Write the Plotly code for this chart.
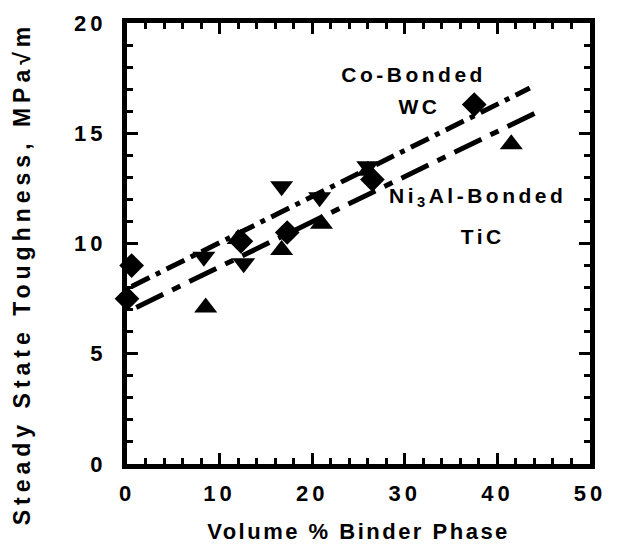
import plotly.graph_objects as go

# Data
wc_x = [0.0, 0.5, 12.3, 17.3, 26.5, 37.5]
wc_y = [7.5, 9.0, 10.1, 10.5, 12.9, 16.3]

tic_up_x = [8.5, 12.0, 16.7, 21.0, 26.0, 41.5]
tic_up_y = [7.1, 10.2, 9.7, 10.9, 13.3, 14.5]

tic_dn_x = [8.3, 12.6, 16.7, 20.8, 26.0]
tic_dn_y = [9.4, 9.1, 12.6, 12.1, 13.5]

fit_wc_x = [0.5, 43.5]
fit_wc_y = [8.05, 17.05]
fit_tic_x = [1.0, 44.0]
fit_tic_y = [7.1, 15.9]

x_ticks = [0, 10, 20, 30, 40, 50]
y_ticks = [0, 5, 10, 15, 20]

FONT = "Liberation Sans"

fig = go.Figure()
fig.add_trace(go.Scatter(x=fit_wc_x, y=fit_wc_y, mode="lines",
                         line=dict(color="black", width=5, dash="20px,7px,5px,7px"),
                         showlegend=False))
fig.add_trace(go.Scatter(x=fit_tic_x, y=fit_tic_y, mode="lines",
                         line=dict(color="black", width=5, dash="30px,10px,9px,10px"),
                         showlegend=False))
fig.add_trace(go.Scatter(x=wc_x, y=wc_y, mode="markers",
                         marker=dict(symbol="diamond", size=19, color="black"),
                         showlegend=False, cliponaxis=False))
fig.add_trace(go.Scatter(x=tic_up_x, y=tic_up_y, mode="markers",
                         marker=dict(symbol="triangle-up", size=20, color="black"),
                         showlegend=False, cliponaxis=False))
fig.add_trace(go.Scatter(x=tic_dn_x, y=tic_dn_y, mode="markers",
                         marker=dict(symbol="triangle-down", size=20, color="black"),
                         showlegend=False, cliponaxis=False))
# invisible trace to carry the top/right tick axes
fig.add_trace(go.Scatter(x=[None], y=[None], xaxis="x2", yaxis="y2",
                         mode="markers", showlegend=False, hoverinfo="skip"))

ann_font = dict(family=FONT, size=21, color="black", weight="bold")
fig.add_annotation(x=30.9, y=17.65, text="Co-Bonded", showarrow=False,
                   font=ann_font, xanchor="center", yanchor="middle")
fig.add_annotation(x=31.6, y=16.2, text="WC", showarrow=False,
                   font=ann_font, xanchor="center", yanchor="middle")
fig.add_annotation(x=37.8, y=12.1, text="Ni<sub>3</sub>Al-Bonded", showarrow=False,
                   font=ann_font, xanchor="center", yanchor="middle")
fig.add_annotation(x=38.4, y=10.3, text="TiC", showarrow=False,
                   font=ann_font, xanchor="center", yanchor="middle")

tick_font = dict(family=FONT, size=22, color="black", weight="bold")

fig.update_xaxes(range=[0, 50], tickvals=x_ticks,
                 showline=True, linecolor="black", linewidth=5, mirror=True,
                 ticks="inside", ticklen=11, tickwidth=3, tickcolor="black",
                 showgrid=False, zeroline=False, tickfont=tick_font,
                 ticklabelstandoff=6,
                 minor=dict(dtick=2, ticks="inside", ticklen=6, tickwidth=2.5,
                            tickcolor="black", showgrid=False),
                 title=dict(text="Volume % Binder Phase", standoff=20,
                            font=dict(family=FONT, size=22, color="black", weight="bold")))
fig.update_yaxes(range=[0, 20], tickvals=y_ticks,
                 showline=True, linecolor="black", linewidth=5, mirror=True,
                 ticks="inside", ticklen=11, tickwidth=3, tickcolor="black",
                 showgrid=False, zeroline=False, tickfont=tick_font,
                 ticklabelstandoff=11,
                 minor=dict(dtick=1, ticks="inside", ticklen=6, tickwidth=2.5,
                            tickcolor="black", showgrid=False),
                 title=dict(text="Steady State Toughness, MPa√m", standoff=47,
                            font=dict(family=FONT, size=23, color="black", weight="bold")))

fig.update_layout(
    xaxis2=dict(overlaying="x", side="top", range=[0, 50], tickvals=x_ticks,
                ticks="inside", ticklen=11, tickwidth=3, tickcolor="black",
                showticklabels=False, showgrid=False, zeroline=False, showline=False,
                minor=dict(dtick=2, ticks="inside", ticklen=6, tickwidth=2.5,
                           tickcolor="black", showgrid=False)),
    yaxis2=dict(overlaying="y", side="right", range=[0, 20], tickvals=y_ticks,
                ticks="inside", ticklen=11, tickwidth=3, tickcolor="black",
                showticklabels=False, showgrid=False, zeroline=False, showline=False,
                minor=dict(dtick=1, ticks="inside", ticklen=6, tickwidth=2.5,
                           tickcolor="black", showgrid=False)),
    width=621, height=554, margin=dict(l=127, r=31, t=23, b=90),
    plot_bgcolor="white", paper_bgcolor="white")

post = """
var gd = document.getElementById('{plot_id}');
function sp(){
  gd.querySelectorAll('g.xtick text, g.ytick text').forEach(function(t){t.style.letterSpacing='4px';});
  gd.querySelectorAll('text.xtitle').forEach(function(t){t.style.letterSpacing='2.5px';});
  gd.querySelectorAll('g.annotation text').forEach(function(t){t.style.letterSpacing='3.5px';});
  gd.querySelectorAll('text.ytitle').forEach(function(t){
    t.style.letterSpacing='5px';
    var tr = t.getAttribute('transform') || '';
    if (tr.indexOf('translate(0,30)') !== 0) {
      t.setAttribute('transform', 'translate(0,30) ' + tr);
    }
  });
}
sp();
if (gd.on) { gd.on('plotly_afterplot', sp); }
"""

fig.write_html("out.html", post_script=post)
